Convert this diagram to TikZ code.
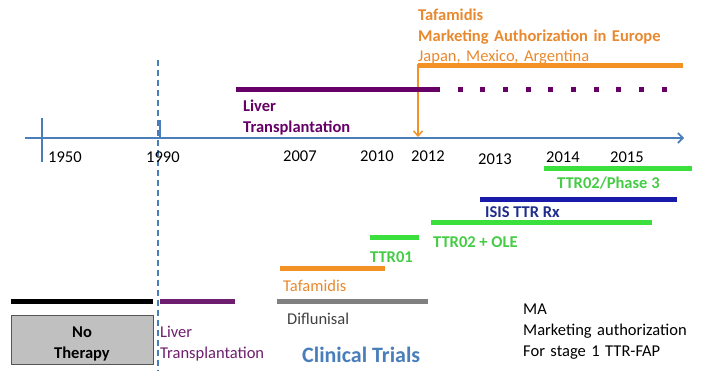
\documentclass[tikz,border=0pt]{standalone}
\usepackage{fontspec}
\setmainfont{Carlito}
\usetikzlibrary{arrows.meta}
\definecolor{axisblue}{HTML}{4A7EBB}
\definecolor{darkpurple}{HTML}{660066}
\definecolor{lightpurple}{HTML}{6E1E6E}
\definecolor{orangebar}{HTML}{F39125}
\definecolor{orangetxt}{HTML}{E8892F}
\definecolor{greenbar}{HTML}{3CE03C}
\definecolor{greentxt}{HTML}{44CC44}
\definecolor{isisbar}{HTML}{1A1AAA}
\definecolor{isistxt}{HTML}{1F2D8C}
\definecolor{graybar}{HTML}{808080}
\definecolor{graytxt}{HTML}{404040}
\definecolor{boxfill}{HTML}{C0C0C0}
\definecolor{boxdraw}{HTML}{555555}
\begin{document}
\begin{tikzpicture}[x=1pt,y=-1pt,
  lbl/.style={anchor=base west, inner sep=0pt, font=\fontsize{16.5}{20.5}\selectfont},
  blbl/.style={lbl, font=\fontsize{16.5}{20.5}\selectfont\bfseries},
  multi/.style={text width=#1, align=left},
  bar/.style={line width=5pt},
  axisline/.style={draw=axisblue, line width=2pt}
]
\useasboundingbox (0,0) rectangle (710,371);

% axis
\coordinate (axL) at (25,138);
\coordinate (axR) at (684,138);
\draw[axisline, -{Straight Barb[length=5pt,width=10pt,line width=1.6pt]}] (axL) -- (axR);
\coordinate (t1950a) at (42,118); \coordinate (t1950b) at (42,162);
\draw[axisline] (t1950a) -- (t1950b);
\coordinate (t1990a) at (160,120); \coordinate (t1990b) at (160,139);
\draw[axisline] (t1990a) -- (t1990b);
% dashed 1990 line
\coordinate (dashTop) at (158,60); \coordinate (dashBot) at (158,371);
\draw[draw=axisblue, line width=1.6pt, dash pattern=on 6pt off 4pt] (dashTop) -- (dashBot);

% year labels
\node[lbl] (y1950) at (48,163) {1950};
\node[lbl] (y1990) at (146,163) {1990};
\node[lbl] (y2007) at (283,162) {2007};
\node[lbl] (y2010) at (360,162) {2010};
\node[lbl] (y2012) at (411,162) {2012};
\node[lbl] (y2013) at (478,165) {2013};
\node[lbl] (y2014) at (546,163) {2014};
\node[lbl] (y2015) at (610,163) {2015};

% Tafamidis MA
\node[lbl, multi=280pt, text=orangetxt] (ma) at (418,21)
  {\textbf{Tafamidis}\\\textbf{Marketing Authorization in Europe}\\Japan, Mexico, Argentina};
\coordinate (maL) at (418,66); \coordinate (maR) at (683,66);
\coordinate (maAx) at (418,137);
\draw[bar, orangebar] (maL) -- (maR);
\draw[orangebar, line width=2pt, -{Straight Barb[length=5pt,width=9pt,line width=1.5pt]}] (418,64) -- (maAx);

% liver transplantation (top)
\coordinate (ltL) at (236,90); \coordinate (ltR) at (440,90);
\draw[bar, darkpurple] (ltL) -- (ltR);
\foreach \i in {0,...,9} {
  \fill[darkpurple] ({460+22.7*\i-2.5},87.5) rectangle ++(5,5);
}
\node[blbl, multi=160pt, text=darkpurple] (ltTop) at (243,112) {Liver\\Transplantation};

% TTR02/Phase 3
\coordinate (p3L) at (544,169); \coordinate (p3R) at (692,169);
\draw[bar, greenbar] (p3L) -- (p3R);
\node[blbl, text=greentxt] (p3) at (557,189) {TTR02/Phase 3};

% ISIS
\coordinate (isL) at (480,200); \coordinate (isR) at (677,200);
\draw[bar, isisbar] (isL) -- (isR);
\node[blbl, text=isistxt] (isis) at (485,218) {ISIS TTR Rx};

% TTR02 + OLE
\coordinate (oleL) at (431,223); \coordinate (oleR) at (652,223);
\draw[bar, greenbar] (oleL) -- (oleR);
\node[blbl, text=greentxt] (ole) at (433,248) {TTR02 + OLE};

% TTR01
\coordinate (t01L) at (370,238); \coordinate (t01R) at (419,238);
\draw[bar, greenbar] (t01L) -- (t01R);
\node[blbl, text=greentxt] (ttr01) at (370,263) {TTR01};

% Tafamidis trial
\coordinate (tafL) at (280,269); \coordinate (tafR) at (385,269);
\draw[bar, orangebar] (tafL) -- (tafR);
\node[lbl, text=orangetxt] (taf) at (283,292) {Tafamidis};

% Diflunisal
\coordinate (difL) at (277,302); \coordinate (difR) at (428,302);
\draw[bar, graybar] (difL) -- (difR);
\node[lbl, text=graytxt] (dif) at (287,325) {Diflunisal};

% No therapy
\coordinate (ntL) at (11,302); \coordinate (ntR) at (153,302);
\draw[bar, black] (ntL) -- (ntR);
\node[draw=boxdraw, fill=boxfill, line width=1pt, minimum width=142pt, minimum height=49pt, anchor=north west, inner sep=0pt] (nobox) at (11,315) {};
\node[blbl, anchor=base, multi=140pt, align=center] (notxt) at (82,338) {No\\Therapy};

% Liver transplantation (bottom)
\coordinate (lbL) at (160,302); \coordinate (lbR) at (235,302);
\draw[bar, lightpurple] (lbL) -- (lbR);
\node[lbl, multi=130pt, text=lightpurple] (ltBot) at (160,338) {Liver\\Transplantation};

% Clinical trials
\node[anchor=base west, inner sep=0pt, font=\fontsize{22}{26}\selectfont\bfseries, text=axisblue] (ct) at (302,363) {Clinical Trials};

% MA legend
\node[lbl, multi=200pt, font=\fontsize{16.5}{21}\selectfont] (legend) at (523,315) {MA\\Marketing authorization\\For stage 1 TTR-FAP};
\end{tikzpicture}
\end{document}
